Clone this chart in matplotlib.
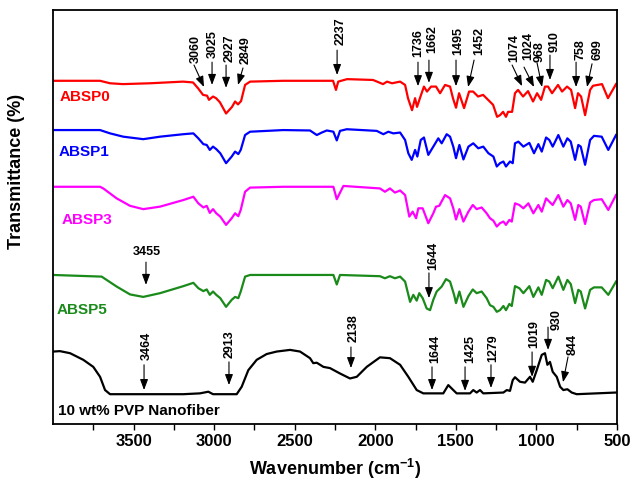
import matplotlib
matplotlib.use("Agg")
import matplotlib.pyplot as plt
from matplotlib.ticker import FixedLocator

plt.rcParams['font.family'] = ['Liberation Sans', 'DejaVu Sans']
plt.rcParams['mathtext.fontset'] = 'custom'
plt.rcParams['mathtext.rm'] = 'Liberation Sans:bold'
plt.rcParams['mathtext.it'] = 'Liberation Sans:bold'
plt.rcParams['mathtext.bf'] = 'Liberation Sans:bold'

# FTIR spectra: (wavenumber cm-1, transmittance, stacked)
absp0 = [(3995, 82.9), (3708, 82.9), (3646, 82.3), (3566, 82.1), (3398, 82.3), (3193, 82.7),
         (3131, 82.5), (3100, 81.1), (3069, 79.5), (3044, 79.3), (3032, 78.3), (3007, 79.1),
         (2988, 78.7), (2964, 77.7), (2926, 75.0), (2889, 76.6), (2870, 77.9), (2852, 77.2),
         (2833, 78.0), (2808, 81.9), (2777, 82.7), (2573, 82.9), (2262, 82.9), (2244, 80.7),
         (2230, 82.7), (2175, 83.3), (2014, 83.1), (1952, 82.1), (1927, 82.7), (1896, 82.3),
         (1846, 82.7), (1815, 81.9), (1797, 78.7), (1772, 75.8), (1753, 78.7), (1741, 76.6),
         (1716, 79.5), (1698, 81.5), (1679, 80.3), (1654, 81.5), (1623, 81.5), (1598, 79.9),
         (1567, 81.9), (1536, 81.5), (1518, 78.7), (1499, 76.4), (1480, 79.9), (1449, 76.3),
         (1418, 80.3), (1393, 80.3), (1362, 79.1), (1331, 79.5), (1300, 78.3), (1269, 77.1),
         (1244, 74.2), (1226, 74.6), (1207, 75.4), (1189, 74.2), (1176, 75.4), (1151, 75.4),
         (1133, 79.9), (1114, 80.7), (1083, 79.1), (1052, 80.4), (1021, 77.9), (996, 79.9),
         (971, 78.3), (947, 81.5), (928, 81.5), (903, 79.9), (866, 81.9), (841, 80.3),
         (810, 81.5), (785, 80.7), (760, 76.3), (742, 79.9), (723, 79.1), (698, 74.6),
         (667, 80.7), (649, 81.7), (593, 82.1), (556, 78.7), (506, 82.1)]

absp1 = [(3998, 71.0), (3708, 71.0), (3646, 70.2), (3564, 69.4), (3440, 68.8), (3336, 69.4),
         (3191, 70.0), (3129, 70.2), (3098, 69.0), (3067, 67.6), (3046, 67.4), (3027, 66.2),
         (3007, 67.0), (2987, 66.4), (2962, 65.4), (2926, 63.0), (2891, 64.6), (2870, 65.8),
         (2850, 65.2), (2835, 66.2), (2808, 69.8), (2777, 70.6), (2571, 71.0), (2405, 70.9),
         (2363, 69.8), (2332, 70.4), (2301, 70.9), (2260, 70.6), (2239, 68.5), (2219, 70.8),
         (2177, 71.2), (1991, 70.8), (1950, 70.0), (1919, 70.6), (1888, 70.2), (1846, 70.4),
         (1815, 68.6), (1795, 65.4), (1774, 63.8), (1753, 66.2), (1739, 64.6), (1718, 68.6),
         (1698, 69.2), (1671, 65.0), (1640, 67.0), (1609, 69.0), (1588, 67.8), (1557, 70.0),
         (1536, 69.4), (1516, 67.0), (1499, 64.2), (1478, 67.4), (1453, 63.9), (1422, 67.0),
         (1392, 67.8), (1361, 66.6), (1330, 67.0), (1298, 65.4), (1267, 64.6), (1246, 62.2),
         (1226, 63.0), (1205, 63.4), (1189, 62.2), (1164, 63.4), (1147, 63.0), (1133, 67.8),
         (1112, 68.2), (1081, 67.0), (1044, 67.9), (1015, 65.4), (988, 67.6), (967, 65.8),
         (940, 69.2), (920, 68.6), (899, 67.0), (864, 69.8), (833, 67.0), (808, 69.0),
         (787, 68.2), (760, 63.8), (740, 67.4), (725, 67.0), (698, 62.6), (667, 68.6),
         (643, 69.6), (595, 69.4), (554, 66.2), (506, 69.8)]

absp3 = [(3998, 57.3), (3708, 57.3), (3688, 56.9), (3605, 54.5), (3522, 52.7), (3440, 51.9),
         (3336, 52.5), (3191, 54.1), (3129, 54.9), (3098, 53.3), (3067, 52.3), (3046, 52.7),
         (3027, 51.0), (3007, 51.9), (2987, 50.9), (2962, 50.1), (2926, 48.1), (2891, 49.7),
         (2870, 50.9), (2850, 50.2), (2835, 51.7), (2808, 56.1), (2777, 57.1), (2571, 57.3),
         (2260, 57.3), (2239, 54.3), (2198, 57.5), (1971, 56.9), (1940, 56.1), (1909, 56.9),
         (1878, 55.9), (1846, 56.4), (1815, 55.3), (1789, 50.1), (1768, 51.3), (1747, 49.7),
         (1733, 52.1), (1706, 52.1), (1671, 48.5), (1640, 50.9), (1623, 52.5), (1603, 52.7),
         (1567, 55.3), (1536, 54.5), (1516, 52.1), (1499, 49.4), (1478, 51.9), (1453, 48.9),
         (1422, 51.3), (1395, 52.9), (1371, 51.9), (1340, 52.3), (1309, 50.9), (1288, 49.7),
         (1267, 49.1), (1246, 47.7), (1226, 48.5), (1205, 48.9), (1189, 48.1), (1168, 49.3),
         (1153, 48.9), (1133, 53.3), (1106, 52.9), (1081, 52.1), (1050, 53.3), (1019, 50.9),
         (988, 52.9), (967, 51.3), (940, 54.5), (920, 53.7), (899, 52.9), (864, 55.3),
         (833, 52.5), (808, 54.1), (787, 53.3), (760, 49.3), (740, 52.9), (725, 52.5),
         (698, 48.3), (667, 53.5), (643, 54.1), (595, 54.3), (554, 51.7), (506, 55.3)]

absp5 = [(3998, 36.0), (3698, 35.6), (3605, 33.2), (3522, 31.3), (3440, 30.7), (3336, 31.6),
         (3191, 33.3), (3129, 34.1), (3098, 32.8), (3067, 32.1), (3046, 32.5), (3027, 31.2),
         (3007, 32.0), (2987, 31.2), (2962, 30.4), (2926, 28.3), (2891, 30.0), (2870, 30.7),
         (2850, 30.4), (2835, 32.0), (2808, 35.6), (2777, 36.0), (2260, 36.0), (2239, 33.7),
         (2219, 36.0), (1971, 35.7), (1940, 35.2), (1909, 35.7), (1878, 35.2), (1846, 35.6),
         (1815, 34.4), (1784, 29.5), (1764, 31.2), (1743, 29.8), (1727, 31.6), (1706, 30.4),
         (1681, 27.9), (1660, 27.5), (1640, 30.0), (1619, 32.0), (1588, 33.2), (1561, 35.0),
         (1536, 34.4), (1511, 31.2), (1499, 29.2), (1478, 32.0), (1453, 28.3), (1422, 30.9),
         (1395, 32.5), (1371, 31.6), (1340, 32.0), (1309, 30.4), (1288, 28.7), (1267, 28.3),
         (1246, 27.1), (1226, 27.5), (1205, 28.5), (1189, 27.5), (1168, 29.0), (1153, 28.5),
         (1133, 33.3), (1106, 32.8), (1081, 31.6), (1044, 33.3), (1019, 30.7), (988, 33.0),
         (967, 31.2), (940, 34.8), (920, 34.4), (899, 32.8), (864, 35.6), (833, 32.4),
         (808, 34.8), (787, 33.8), (760, 29.2), (740, 32.4), (725, 32.0), (698, 27.9),
         (667, 32.4), (643, 33.0), (595, 33.0), (554, 31.2), (506, 34.4)]

pvp_fiber = [(3998, 17.5), (3957, 17.6), (3894, 17.1), (3812, 15.5), (3750, 13.8), (3708, 11.4),
             (3677, 8.2), (3646, 7.2), (3605, 7.2), (3191, 7.2), (3088, 7.4), (3036, 7.8),
             (3007, 7.2), (2860, 7.2), (2829, 9.0), (2788, 13.0), (2736, 15.5), (2674, 16.9),
             (2612, 17.5), (2529, 17.9), (2467, 17.5), (2405, 15.9), (2385, 14.7), (2363, 14.8),
             (2322, 13.8), (2281, 13.5), (2219, 12.2), (2157, 11.0), (2115, 11.4), (2053, 13.8),
             (1971, 16.1), (1909, 15.9), (1846, 14.3), (1795, 11.4), (1743, 8.2), (1702, 7.4),
             (1578, 7.4), (1547, 9.4), (1516, 8.2), (1495, 7.4), (1412, 7.4), (1392, 8.2),
             (1371, 7.6), (1350, 8.2), (1330, 7.4), (1205, 7.6), (1184, 8.2), (1164, 8.0),
             (1147, 10.6), (1133, 11.3), (1102, 10.2), (1071, 10.0), (1040, 11.4), (1023, 10.2),
             (998, 13.0), (967, 16.7), (947, 17.1), (932, 14.3), (916, 15.0), (899, 12.6),
             (874, 11.4), (853, 9.0), (833, 8.2), (808, 8.4), (781, 7.6), (750, 7.2),
             (506, 7.6)]

series_names = ['ABSP0', 'ABSP1', 'ABSP3', 'ABSP5', '10 wt% PVP Nanofiber']
series_data = [absp0, absp1, absp3, absp5, pvp_fiber]
series_colors = ['#ff0000', '#0000ff', '#ff00ff', '#1a8a1a', '#000000']
label_anchor = [(3957, 78.9), (3963, 65.7), (3944, 49.3), (3975, 27.5), (3969, 3.1)]

# peak callouts: label, text anchor, arrow tail, arrow head
callouts = [
    ('3060', (3113, 87.2), (3125, 86.7), (3063, 81.4)),
    ('3025', (3007, 88.4), (3013, 87.4), (3013, 81.9)),
    ('2927', (2902, 87.4), (2926, 86.7), (2926, 81.2)),
    ('2849', (2802, 87.0), (2821, 86.0), (2852, 81.9)),
    ('2237', (2213, 91.5), (2237, 90.3), (2237, 84.3)),
    ('1736', (1735, 88.6), (1735, 87.4), (1735, 81.6)),
    ('1662', (1648, 89.6), (1667, 87.9), (1667, 82.4)),
    ('1495', (1487, 89.1), (1499, 87.9), (1499, 81.6)),
    ('1452', (1356, 89.1), (1387, 87.9), (1424, 81.4)),
    ('1074', (1139, 87.4), (1151, 86.7), (1089, 81.6)),
    ('1024', (1052, 87.9), (1077, 86.2), (1015, 81.4)),
    ('968', (978, 87.4), (996, 87.2), (965, 81.4)),
    ('910', (885, 89.9), (916, 89.1), (916, 83.1)),
    ('758', (729, 87.9), (754, 87.4), (754, 81.4)),
    ('699', (618, 87.9), (655, 87.0), (686, 81.4)),
    ('1644', (1642, 37.2), (1667, 36.5), (1667, 30.4)),
    ('3464', (3417, 15.5), (3435, 14.3), (3435, 8.2)),
    ('2913', (2902, 15.9), (2908, 15.0), (2908, 9.4)),
    ('2138', (2132, 19.8), (2151, 18.6), (2151, 13.5)),
    ('1644', (1629, 14.7), (1648, 13.8), (1648, 8.2)),
    ('1425', (1412, 14.7), (1443, 13.8), (1443, 8.0)),
    ('1279', (1269, 15.0), (1282, 14.3), (1282, 8.7)),
    ('1019', (1015, 18.4), (1027, 17.4), (1027, 11.4)),
    ('930', (872, 22.7), (928, 23.4), (928, 17.9)),
    ('844', (773, 16.7), (804, 16.2), (835, 10.1)),
]
# horizontal callout on the ABSP5 trace
flat_callout = ('3455', (3417, 41.5), (3423, 39.1), (3423, 33.6))

fig = plt.figure(figsize=(6.33, 4.82), dpi=100)
ax = fig.add_axes([53 / 633, 58 / 482, 564 / 633, 414 / 482])

for data, color in zip(series_data, series_colors):
    wn = [p[0] for p in data]
    tr = [p[1] for p in data]
    ax.plot(wn, tr, color=color, lw=1.6, solid_joinstyle='round')

for name, color, (x, y) in zip(series_names, series_colors, label_anchor):
    ax.text(x, y, name, color=color, fontsize=11, fontweight='bold', ha='left', va='center')

arrow_kw = dict(arrowstyle='-|>,head_length=0.8,head_width=0.3', color='black',
                lw=0.8, mutation_scale=8, shrinkA=0, shrinkB=0)
for label, txt, tail, head in callouts:
    ax.text(txt[0], txt[1], label, rotation=90, ha='center', va='bottom',
            fontsize=9, fontweight='bold')
    ax.annotate('', xy=head, xytext=tail, arrowprops=arrow_kw)

label, txt, tail, head = flat_callout
ax.text(txt[0], txt[1], label, ha='center', va='center', fontsize=9, fontweight='bold')
ax.annotate('', xy=head, xytext=tail, arrowprops=arrow_kw)

ax.set_xlim(4000, 500)
ax.set_ylim(0, 100)
ax.xaxis.set_major_locator(FixedLocator([3500, 3000, 2500, 2000, 1500, 1000, 500]))
ax.xaxis.set_minor_locator(FixedLocator([3750, 3250, 2750, 2250, 1750, 1250, 750]))
ax.tick_params(axis='x', which='both', direction='out', length=4, width=1.0,
               labelsize=12, pad=3)
for t in ax.get_xticklabels():
    t.set_fontweight('bold')
ax.set_yticks([])
for s in ax.spines.values():
    s.set_linewidth(1.3)

ax.set_xlabel('Wavenumber (cm$^{-1}$)', fontsize=13, fontweight='bold', labelpad=6)
ax.set_ylabel('Transmittance (%)', fontsize=13, fontweight='bold')
ax.yaxis.set_label_coords(-0.05, 0.609)

fig.savefig('out.png', dpi=100)
